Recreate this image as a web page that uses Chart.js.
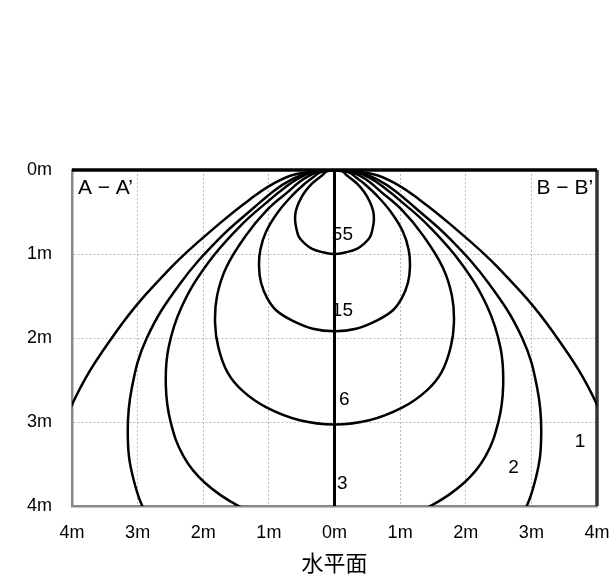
<!DOCTYPE html>
<html>
<head>
<meta charset="utf-8">
<title>水平面</title>
<script src="https://cdn.jsdelivr.net/npm/chart.js@4.4.1/dist/chart.umd.min.js"></script>
<style>
	html, body { margin: 0; padding: 0; background: #fff; }
</style>
</head>
<body>
<canvas id="mycanvas" width="613" height="585"></canvas>
<script>
// isolux levels, each curve goes from its lowest point up to the lamp at (0, 0)
// w = half width (m), d = depth below the lamp (m)
var levels = ['55', '15', '6', '3', '2', '1'];

var w55 = [0, 0.17, 0.34, 0.46, 0.54, 0.58, 0.60, 0.59, 0.54, 0.45, 0.34, 0.23, 0.17, 0.13, 0.08, 0];
var d55 = [1.00, 0.98, 0.94, 0.87, 0.80, 0.70, 0.60, 0.49, 0.38, 0.26, 0.16, 0.09, 0.05, 0.02, 0.01, 0];

var w15 = [0, 0.33, 0.65, 0.89, 1.03, 1.12, 1.15, 1.13, 1.04, 0.86, 0.64, 0.45, 0.33, 0.25, 0.15, 0];
var d15 = [1.92, 1.89, 1.79, 1.67, 1.52, 1.34, 1.15, 0.95, 0.73, 0.50, 0.30, 0.16, 0.09, 0.04, 0.01, 0];

var w6 = [0, 0.53, 1.03, 1.40, 1.63, 1.77, 1.82, 1.79, 1.65, 1.36, 1.02, 0.71, 0.53, 0.39, 0.24, 0];
var d6 = [3.03, 2.98, 2.83, 2.63, 2.41, 2.11, 1.82, 1.50, 1.16, 0.79, 0.47, 0.26, 0.14, 0.07, 0.02, 0];

var w3 = [0.74, 1.46, 1.98, 2.30, 2.50, 2.57, 2.53, 2.33, 1.93, 1.44, 1.01, 0.74, 0.55, 0.34, 0];
var d3 = [4.22, 4.00, 3.72, 3.41, 2.99, 2.57, 2.12, 1.63, 1.11, 0.67, 0.37, 0.20, 0.10, 0.03, 0];

var w2 = [2.43, 2.82, 3.07, 3.15, 3.09, 2.86, 2.36, 1.76, 1.23, 0.91, 0.67, 0.42, 0];
var d2 = [4.56, 4.17, 3.66, 3.15, 2.60, 2.00, 1.36, 0.82, 0.45, 0.24, 0.12, 0.04, 0];

var w1 = [4.37, 4.04, 3.34, 2.49, 1.74, 1.29, 0.95, 0.59, 0];
var d1 = [3.70, 2.86, 1.94, 1.16, 0.63, 0.35, 0.17, 0.05, 0];

var widths = [w55, w15, w6, w3, w2, w1];
var depths = [d55, d15, d6, d3, d2, d1];

// where the level numbers sit (m)
var labelX = [0.12, 0.12, 0.15, 0.12, 2.73, 3.74];
var labelY = [0.77, 1.68, 2.74, 3.74, 3.55, 3.23];

var sections = ['A − A’', 'B − B’'];
var sectionX = [-3.91, 3.94];
var sectionY = [0.22, 0.22];

var xTicks = [-4, -3, -2, -1, 0, 1, 2, 3, 4];
var yTicks = [0, 1, 2, 3, 4];

// left arm (A side) down from the lamp, then right arm (B side) back up
function buildCurve(w, d) {
	var pts = [];
	for (var i = w.length - 1; i >= 0; i--) {
		pts.push({x: -w[i], y: d[i]});
	}
	var start = 1;
	if (w[0] !== 0) {
		pts.push({x: null, y: null});
		start = 0;
	}
	for (var j = start; j < w.length; j++) {
		pts.push({x: w[j], y: d[j]});
	}
	return pts;
}

var datasets = [];
for (var k = 0; k < levels.length; k++) {
	datasets.push({
		label: levels[k],
		data: buildCurve(widths[k], depths[k]),
		showLine: true,
		borderColor: '#000',
		borderWidth: 2.5,
		pointRadius: 0,
		fill: false
	});
}
// center line, top line and right frame
datasets.push({ data: [{x: 0, y: 0}, {x: 0, y: 4}], showLine: true, borderColor: '#000', borderWidth: 3, pointRadius: 0, tension: 0 });
datasets.push({ data: [{x: -4, y: 0}, {x: 4, y: 0}], showLine: true, borderColor: '#000', borderWidth: 3.5, pointRadius: 0, tension: 0, clip: false });
datasets.push({ data: [{x: 4, y: 0}, {x: 4, y: 4}], showLine: true, borderColor: '#333', borderWidth: 3.5, pointRadius: 0, tension: 0, clip: false });

var textPlugin = {
	id: 'curveText',
	afterDatasetsDraw: function(chart) {
		var ctx = chart.ctx;
		var xs = chart.scales.x, ys = chart.scales.y;
		ctx.save();
		ctx.fillStyle = '#000';
		ctx.textBaseline = 'middle';
		ctx.font = '19px "Liberation Sans", Arial, sans-serif';
		ctx.textAlign = 'center';
		for (var i = 0; i < levels.length; i++) {
			ctx.fillText(levels[i], xs.getPixelForValue(labelX[i]), ys.getPixelForValue(labelY[i]));
		}
		ctx.font = '21px "Liberation Sans", Arial, sans-serif';
		ctx.textAlign = 'left';
		ctx.fillText(sections[0], xs.getPixelForValue(sectionX[0]), ys.getPixelForValue(sectionY[0]));
		ctx.textAlign = 'right';
		ctx.fillText(sections[1], xs.getPixelForValue(sectionX[1]), ys.getPixelForValue(sectionY[1]));
		ctx.restore();
	}
};

var tickFont = { family: '"Liberation Sans", Arial, sans-serif', size: 18 };

var chart = new Chart(document.getElementById('mycanvas'), {
	type: 'scatter',
	data: { datasets: datasets },
	options: {
		responsive: false,
		animation: false,
		layout: { padding: { left: 0, right: 16, top: 170, bottom: 0 } },
		elements: { line: { tension: 0.4, capBezierPoints: false } },
		plugins: { legend: { display: false }, tooltip: { enabled: false } },
		scales: {
			x: {
				type: 'linear',
				min: -4, max: 4,
				afterBuildTicks: function(scale) { scale.ticks = xTicks.map(function(v) { return {value: v}; }); },
				afterFit: function(scale) { scale.height = 79; scale.paddingLeft = 0; scale.paddingRight = 0; },
				ticks: {
					color: '#000', font: tickFont, padding: 16, maxRotation: 0,
					callback: function(v) { return Math.abs(v) + 'm'; }
				},
				grid: { color: '#bdbdbd', lineWidth: 1, drawTicks: false },
				border: { color: '#888', width: 2.5, dash: [2, 2] },
				title: {
					display: true, text: '水平面', color: '#000',
					font: { family: '"Noto Sans CJK JP", sans-serif', size: 22 },
					padding: { top: 0, bottom: 9 }
				}
			},
			y: {
				type: 'linear',
				min: 0, max: 4,
				reverse: true,
				afterBuildTicks: function(scale) { scale.ticks = yTicks.map(function(v) { return {value: v}; }); },
				afterFit: function(scale) { scale.width = 72; scale.paddingTop = 0; scale.paddingBottom = 0; },
				ticks: {
					color: '#000', font: tickFont, padding: 20,
					callback: function(v) { return v + 'm'; }
				},
				grid: { color: '#bdbdbd', lineWidth: 1, drawTicks: false },
				border: { color: '#888', width: 2.5, dash: [2, 2] }
			}
		}
	},
	plugins: [textPlugin]
});
</script>
</body>
</html>
